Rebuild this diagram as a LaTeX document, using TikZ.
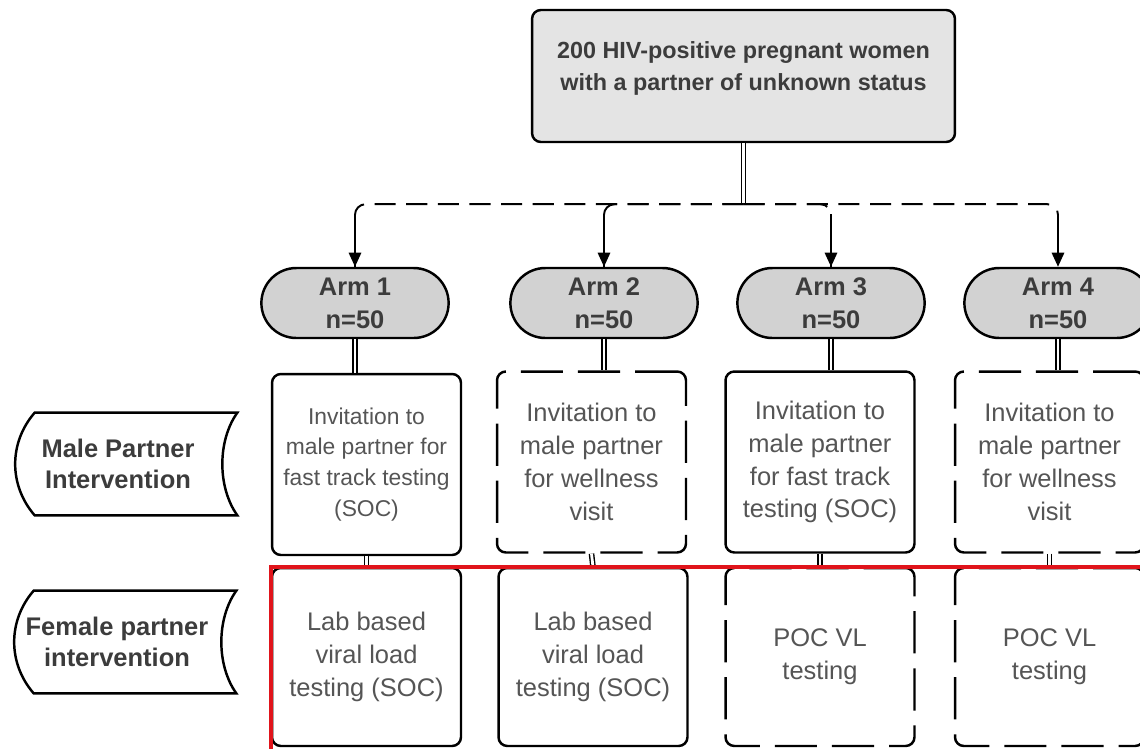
\documentclass[tikz,border=0pt]{standalone}
\usepackage{fontspec}
\setmainfont{Liberation Sans}
\usetikzlibrary{calc,shapes.misc,arrows.meta}

\definecolor{topgray}{HTML}{E4E4E4}
\definecolor{armgray}{HTML}{D2D2D2}
\definecolor{txtdark}{HTML}{3C3C3C}
\definecolor{txtgray}{HTML}{555555}
\definecolor{framered}{HTML}{E0141B}

\begin{document}
\begin{tikzpicture}[x=0.02cm,y=-0.02cm,>={Triangle[length=8pt,width=7pt]},
    topbox/.style={draw, line width=1.4pt, rounded corners=5pt, fill=topgray,
        minimum width=8.46cm, minimum height=2.64cm, align=center, text=txtdark,
        text depth=11pt, font=\fontsize{13.3}{18}\selectfont\bfseries},
    armnode/.style={rounded rectangle, draw, line width=1.4pt, fill=armgray,
        minimum width=3.98cm, minimum height=1.4cm, align=center, text=txtdark,
        font=\fontsize{14.5}{18.7}\selectfont\bfseries},
    solidbox/.style={draw, line width=1.4pt, rounded corners=5pt,
        minimum width=3.78cm, minimum height=3.62cm, align=center, text=txtgray,
        font=\fontsize{14.5}{18.7}\selectfont},
    dashbox/.style={solidbox, dash pattern=on 24pt off 8.5pt},
    sidelabel/.style={minimum width=4.44cm, minimum height=2.04cm, align=center,
        text=txtdark, font=\fontsize{14.5}{18}\selectfont\bfseries},
    sideshape/.style={draw, line width=1.4pt},
    link/.style={draw, double=white, double distance=1.6pt, line width=0.8pt},
    dashlink/.style={draw, line width=1.1pt, dash pattern=on 12pt off 6pt,
        rounded corners=6pt, to path={-| (\tikztotarget)}},
    droplink/.style={draw, line width=1.1pt},
    redframe/.style={draw=framered, line width=2.2pt}
    ]
    \useasboundingbox (0,0) rectangle (1140,748);
    \clip (0,0) rectangle (1140,748);

    \node[topbox] (top) at (743.5,76) {200 HIV-positive pregnant women\\with a partner of unknown status};
    \coordinate (split) at ([yshift=-1.22cm]top.south);

    \foreach \i/\x in {1/355,2/604,3/831,4/1058}
        {\node[armnode] (arm\i) at (\x,303) {Arm \i\\n=50};}

    \node[solidbox, font=\fontsize{13}{17.6}\selectfont] (male1) at (366.5,464.5)
        {Invitation to\\male partner for\\fast track testing\\(SOC)};
    \node[dashbox] (male2) at (591.5,462) {Invitation to\\male partner\\for wellness\\visit};
    \node[solidbox] (male3) at (820,462) {Invitation to\\male partner\\for fast track\\testing (SOC)};
    \node[dashbox] (male4) at (1049.5,462) {Invitation to\\male partner\\for wellness\\visit};

    \node[solidbox, minimum height=3.56cm] (female1) at (366.5,657) {Lab based\\viral load\\testing (SOC)};
    \node[solidbox, minimum height=3.56cm] (female2) at (593,657) {Lab based\\viral load\\testing (SOC)};
    \node[dashbox, minimum height=3.56cm] (female3) at (820,657) {POC VL\\testing};
    \node[dashbox, minimum height=3.56cm] (female4) at (1049.5,657) {POC VL\\testing};

    \node[sidelabel] (malelab) at (118,464) {Male Partner\\Intervention};
    \node[sidelabel] (femalelab) at (117,642) {Female partner\\intervention};
    \foreach \n in {malelab,femalelab}
        {\draw[sideshape] ($(\n.south west)+(28,0)$) .. controls +(-26,-30) and +(-26,30) ..
            ($(\n.north west)+(28,0)$) -- ($(\n.north east)+(8,0)$) .. controls +(-20,28) and +(-20,-28) ..
            ($(\n.south east)+(8,0)$) -- cycle;}

    \path (top.south) edge[link] (split);
    \foreach \i in {1,...,4}
        {\path (split) edge[dashlink] (arm\i.north)
        ($(arm\i.north |- split)+(0,10)$) edge[droplink,->] (arm\i.north);}
    \foreach \i in {1,...,4}
        {\path
        (arm\i.south)  edge[link] (arm\i.south |- male\i.north)
        (male\i.south) edge[link] (female\i.north);}

    \draw[redframe] (female1.north west) rectangle ([shift={(30,30)}]female4.south east);
\end{tikzpicture}
\end{document}
